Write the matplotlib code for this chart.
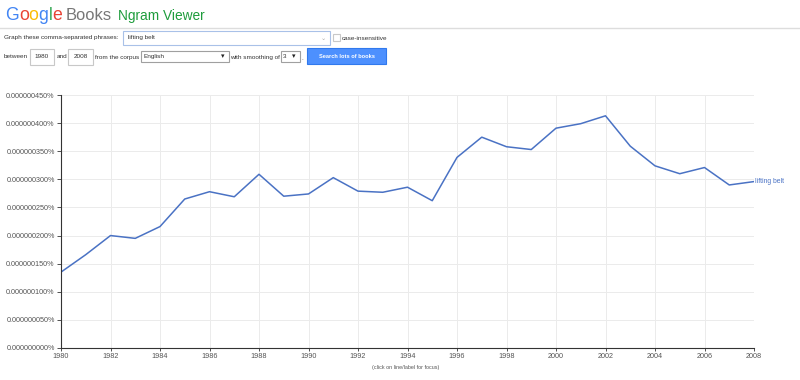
# Google Books Ngram Viewer screenshot: "lifting belt", 1980-2008
import matplotlib.pyplot as plt
from matplotlib.patches import Rectangle
from matplotlib.ticker import FuncFormatter

plt.rcParams['font.family'] = ['Liberation Sans', 'DejaVu Sans']

# Data (frequency in units of 1e-9 %)
years = list(range(1980, 2009))
freq = [135, 166, 200, 195, 216, 265, 278, 269, 309, 270, 274, 303, 279, 277,
        286, 262, 339, 375, 358, 353, 391, 399, 413, 359, 324, 310, 321, 290, 296]
phrase = "lifting belt"
xticks = list(range(1980, 2009, 2))
yticks = list(range(0, 451, 50))

W, H = 800, 380
fig = plt.figure(figsize=(W / 100, H / 100), dpi=100)
renderer = fig.canvas.get_renderer()


def px(x, y):
    return x / W, 1 - y / H


def box(x0, y0, x1, y1, ec="#c8c8c8", fc="white", lw=0.8):
    fig.add_artist(Rectangle(px(x0, y1), (x1 - x0) / W, (y1 - y0) / H,
                             transform=fig.transFigure, ec=ec, fc=fc, lw=lw))


def label(x, y, s, **kw):
    kw.setdefault("fontsize", 4.6)
    kw.setdefault("color", "#333333")
    kw.setdefault("va", "center")
    return fig.text(*px(x, y), s, **kw)


def text_width(s, size):
    t = fig.text(0, 0, s, fontsize=size)
    w = t.get_window_extent(renderer).width
    t.remove()
    return w


def fit_size(s, target):
    return 10 * target / text_width(s, 10)


# header logo, letter by letter
g_colors = ["#4285f4", "#ea4335", "#fbbc05", "#4285f4", "#34a853", "#ea4335"]
word = "Google"
gsize = fit_size(word, 57)
for i, c in enumerate(g_colors):
    x = 5 + text_width(word[:i + 1], gsize) - text_width(word[i], gsize)
    label(x, 15, word[i], color=c, fontsize=gsize)
label(66, 15, "Books", fontsize=fit_size("Books", 46), color="#777777")
label(118, 16, "Ngram Viewer", fontsize=fit_size("Ngram Viewer", 87),
      color="#1e9c3c")
fig.add_artist(plt.Line2D([0, 1], [1 - 28 / H] * 2, color="#dddddd", lw=1))

# form row 1
label(4, 38, "Graph these comma-separated phrases:")
box(123, 31, 330, 45, ec="#a9c1e8")
label(128, 38, phrase)
label(321, 39, "\u2304", fontsize=4.5, color="#aaaaaa")
box(333, 34, 340, 41)
label(342, 38, "case-insensitive")

# form row 2
label(4, 57, "between")
box(30, 49, 54, 65)
label(42, 57, "1980", ha="center")
label(57, 57, "and")
box(68, 49, 93, 65)
label(80.5, 57, "2008", ha="center")
label(95, 57, "from the corpus")
box(141, 51, 229, 62, ec="#a0a0a0")
label(143, 56.5, "English")
label(221, 56.5, "\u25be", fontsize=5, color="#222222")
label(230, 57, "with smoothing of")
box(281, 51, 300, 62, ec="#a0a0a0")
label(283, 56.5, "3")
label(292, 56.5, "\u25be", fontsize=5, color="#222222")
label(301, 58, ".")
box(307, 48, 386, 64, ec="#3079ed", fc="#4d90fe")
label(346.5, 56, "Search lots of books", ha="center", color="white",
      fontweight="bold", fontsize=4.1)

# chart
ax = fig.add_axes([61 / W, (H - 348) / H, (754 - 61) / W, (348 - 95) / H])
ax.plot(years, freq, color="#4a72c4", lw=1.1)
ax.text(years[-1] + 0.05, freq[-1], phrase, color="#4a72c4", fontsize=4.9,
        va="center", ha="left")
ax.set_xlim(1980, 2008)
ax.set_ylim(0, 450)
ax.set_xticks(xticks)
ax.set_yticks(yticks)
ax.yaxis.set_major_formatter(FuncFormatter(lambda v, p: f"{v * 1e-9:.9f}%"))
ax.tick_params(labelsize=5.25, colors="#333333", length=3, width=0.6, pad=1.5)
ax.tick_params(axis="y", labelcolor="#555555")
ax.tick_params(axis="x", labelcolor="#555555", length=2)
ax.grid(True, color="#ebebeb", lw=0.7)
ax.set_axisbelow(True)
for s in ["top", "right"]:
    ax.spines[s].set_visible(False)
for s in ["left", "bottom"]:
    ax.spines[s].set_color("#333333")
    ax.spines[s].set_linewidth(0.8)

label(406, 368, "(click on line/label for focus)", fontsize=3.85, ha="center",
      color="#555555")

fig.savefig("out.png", dpi=100)
